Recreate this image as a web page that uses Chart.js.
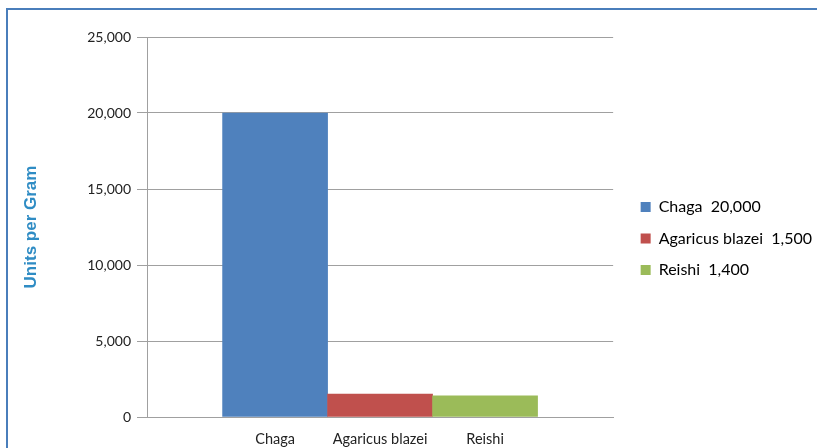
<!DOCTYPE html>
<html>
<head>
<meta charset="utf-8">
<script src="https://cdn.jsdelivr.net/npm/chart.js@4"></script>
<style>
    html, body { margin: 0; padding: 0; background: #ffffff; overflow: hidden; }
    #frame {
        position: absolute; left: 6px; top: 8px; width: 900px; height: 500px;
        border-top: 2px solid #4a7ebb; border-left: 2px solid #4a7ebb;
    }
    #wrap { position: absolute; left: 0; top: 0; width: 817px; height: 448px; }
</style>
</head>
<body>
<div id="frame"></div>
<div id="wrap"><canvas id="graph" width="817" height="448"></canvas></div>
<script>
const categories = ['Chaga', 'Agaricus blazei', 'Reishi'];
const values = [20000, 1500, 1400];
const bar_colors = ['#4f81bd', '#c0504d', '#9bbb59'];
const y_ticks = [0, 5000, 10000, 15000, 20000, 25000];

function format_number(v) {
    return v.toLocaleString('en-US');
}

let points_data = [];
for (let i = 0; i < categories.length; ++i) {
    points_data.push({ x: i, y: values[i] });
}

// move the legend items a bit to the right, away from the plot
const legend_nudge = {
    id: 'legend_nudge',
    afterLayout: function (chart) {
        if (chart.legend) {
            chart.legend.left += 12;
            chart.legend.right += 12;
            chart.legend.top -= 4;
            chart.legend.bottom -= 4;
        }
    }
};

const data = {
    datasets: [
        {
            label: 'Units per Gram',
            data: points_data,
            backgroundColor: bar_colors,
            borderWidth: 0,
            barPercentage: 1,
            categoryPercentage: 1
        }
    ]
};

const config = {
    type: 'bar',
    data,
    plugins: [legend_nudge],
    options: {
        responsive: false,
        animation: false,
        layout: { padding: { top: 37, right: 7, bottom: 0, left: 0 } },
        plugins: {
            tooltip: { enabled: false },
            legend: {
                position: 'right',
                labels: {
                    boxWidth: 10,
                    boxHeight: 10,
                    padding: 15.5,
                    color: '#222222',
                    font: { family: 'Lato', size: 16 },
                    generateLabels: function () {
                        return categories.map((c, i) => ({
                            text: c + '  ' + format_number(values[i]),
                            fillStyle: bar_colors[i],
                            strokeStyle: bar_colors[i],
                            lineWidth: 0,
                            hidden: false,
                            index: i,
                            datasetIndex: 0
                        }));
                    }
                }
            }
        },
        scales: {
            x: {
                type: 'linear',
                offset: false,
                min: -1.22,
                max: 3.22,
                grid: { display: false },
                border: { color: '#a0a0a0', width: 1 },
                afterBuildTicks: function (scale) {
                    scale.ticks = categories.map((c, i) => ({ value: i }));
                },
                afterFit: function (scale) {
                    scale.height = 31;
                },
                ticks: {
                    padding: 6,
                    color: '#222222',
                    font: { family: 'Lato', size: 14.5 },
                    callback: function (v) {
                        return categories[v];
                    }
                }
            },
            y: {
                min: 0,
                max: 25000,
                afterBuildTicks: function (scale) {
                    scale.ticks = y_ticks.map(v => ({ value: v }));
                },
                afterFit: function (scale) {
                    scale.width = 147;
                },
                grid: { color: '#a0a0a0', tickLength: 10 },
                border: { color: '#a0a0a0', width: 1 },
                ticks: {
                    padding: 6,
                    color: '#222222',
                    font: { family: 'Lato', size: 14 },
                    callback: function (v) {
                        return format_number(v);
                    }
                },
                title: {
                    display: true,
                    text: 'Units per Gram',
                    color: '#2f8cc4',
                    padding: { top: 21, bottom: 0 },
                    font: { family: 'Liberation Sans', size: 17, weight: 'bold' }
                }
            }
        }
    }
};

let chart = new Chart(document.getElementById('graph'), config);
</script>
</body>
</html>
